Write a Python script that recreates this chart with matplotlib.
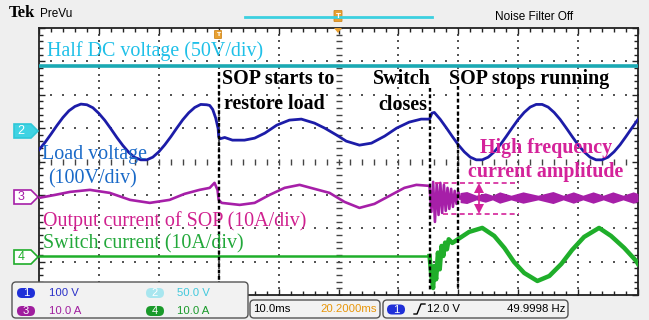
import numpy as np
import matplotlib
matplotlib.use("Agg")
import matplotlib.pyplot as plt
from matplotlib.patches import FancyBboxPatch, Polygon

# ---------------- waveform data (time in ms, physical units) ----------------
# Channel settings: volts/amps per division and ground-marker position (div)
ch1_scale, ch1_pos = 100.0, 0.94   # load voltage, V/div
ch2_scale, ch2_pos = 50.0, 0.94    # half DC voltage, V/div
ch3_scale, ch3_pos = 10.0, -1.06   # SOP output current, A/div
ch4_scale, ch4_pos = 10.0, -2.83   # switch current, A/div

dc_t = [0, 100]
dc_v = [96, 96]

load_t = [0, 1, 2, 3, 4, 5, 6, 7, 8, 9, 10, 11, 12, 13, 14, 15, 16, 17, 18,
          19, 20, 21, 22, 23, 24, 25, 26, 27, 28, 28.5, 29, 29.5, 29.9, 30.0,
          30.2, 31, 32.3, 34.3, 36, 37.7, 39.7, 41.8, 43.8, 46, 47.7, 49.7,
          51.3, 53.5, 55.5, 57.7, 59.7, 61.8, 63.8, 65.2, 65.6, 66, 67, 68,
          69, 70, 71, 72, 73, 74, 75, 76, 77, 78, 79, 80, 81, 82, 83, 84, 85,
          86, 87, 88, 89, 90, 91, 92, 93, 94, 95, 96, 97, 98, 99, 100]
load_v = [-59, -37, -12, 14, 38, 58, 71, 78, 76, 67, 50, 29, 4, -22, -46, -67,
          -82, -89, -89, -81, -65, -44, -20, 6, 31, 52, 68, 77, 76, 74, 62, 36,
          5, -20, -26, -22, -30, -30, -24, -9, 15, 30, 33, 21, 6, -15, -33,
          -45, -39, -18, 6, 24, 33, 33, 51, 53, 32, 7, -19, -44, -65, -81,
          -89, -89, -81, -65, -44, -19, 7, 32, 53, 69, 77, 77, 69, 53, 32, 7,
          -19, -44, -65, -81, -89, -89, -81, -65, -44, -19, 7, 32]

sop_t = [0, 2.7, 5.2, 8.5, 11.8, 15.2, 18.5, 21.8, 24.3, 26.8, 28.5, 29.3,
         29.8, 30.0, 30.5, 33.5, 36, 38.5, 41, 43.5, 46, 48.5, 51, 53.5, 56,
         58.5, 61, 63, 65.2, 65.5, 65.8, 66.1, 66.4, 66.7, 67.0, 67.3, 67.6,
         67.9, 68.2, 68.5, 68.8, 69.1, 69.4, 69.7, 70.0, 70.3]
sop_a = [-0.3, 0.6, 1.5, 2.1, 1.2, -0.9, -1.8, -0.9, 0.9, 2.1, 2.7, 4.2, 2.1,
         -0.9, -1.8, -2.4, -1.8, 0.6, 2.7, 3.6, 2.4, 1.2, -1.5, -3.3, -2.1, 0.3,
         2.7, 3.6, 3.3, -4.5, 4.5, -7.5, 3.9, -5.4, 4.2, -4.8, 3.6, -4.2, 2.7,
         -3.6, 2.4, -3.0, 1.8, -2.1, 1.5, -0.2]

# residual high-frequency ripple after the SOP stops: centre and half-width
ripple_t = [70.3, 71.4, 73.0, 74.5, 75.7, 76.9, 78.8, 80.8, 83.3, 85.8, 87.5,
            89.2, 90.8, 92.5, 94.2, 95.8, 97.5, 99.2, 100]
ripple_half = [1.5, 1.8, 0.7, 1.4, 0.7, 1.7, 0.7, 1.7, 0.7, 1.8, 0.7, 1.7,
               0.7, 1.7, 0.7, 1.7, 0.7, 1.7, 1.2]
ripple_mid = -0.2

sw_t = [0, 65.2, 65.5, 65.8, 66.0, 66.3, 66.6, 66.9, 67.2, 67.5, 67.8, 68.1,
        68.4, 69, 71.8, 74, 76, 77.7, 79.3, 81, 83.2, 85.2, 87.2, 89, 91, 93.5,
        95.5, 97.7, 99.7, 100]
sw_a = [0, 0, -6, -9.6, -3, -7, 1, -4, 3, 0, 4, 2, 5, 3.9, 7.2, 8.4, 6, 2.4,
        -1.8, -5.1, -7.5, -6, -2.4, 1.8, 5.7, 8.4, 6, 2.4, -1.5, -2.4]

t_sop_on, t_switch, t_sop_off = 30.0, 65.3, 70.0

# ---------------- colours & fonts ----------------
C_BLUE = '#1c1ca8'
C_CYAN = '#1aa9b3'
C_PURP = '#a61fa8'
C_GREEN = '#1fae2a'
C_MAG = '#d4229a'
SERIF = 'Liberation Serif'
NARROW = ['Liberation Sans Narrow', 'Liberation Sans', 'DejaVu Sans']

W, H = 649, 320
fig = plt.figure(figsize=(W / 100, H / 100), dpi=100)
fig.patch.set_facecolor('#efefef')

GX0, GX1, GY0, GY1 = 39, 638, 28, 295
ax = fig.add_axes([GX0 / W, 1 - GY1 / H, (GX1 - GX0) / W, (GY1 - GY0) / H])
ax.set_xlim(0, 100)
ax.set_ylim(-4, 4)
ax.set_facecolor('white')

# graticule: border ticks, dotted grid, centre cross
ax.set_xticks(np.arange(0, 101, 10))
ax.set_xticks(np.arange(0, 101, 2), minor=True)
ax.set_yticks(np.arange(-4, 4.01, 1))
ax.set_yticks(np.arange(-4, 4.01, 0.2), minor=True)
ax.tick_params(which='both', direction='in', top=True, right=True,
               labelbottom=False, labelleft=False, color='#222222', width=1.0)
ax.tick_params(which='major', length=4)
ax.tick_params(which='minor', length=3)
for s in ax.spines.values():
    s.set_color('#222222')
    s.set_linewidth(1.3)

ys = np.arange(-4, 4.01, 0.2)
xs = np.arange(0, 100.01, 2)
for xv in range(10, 100, 10):
    if xv == 50:
        continue
    ax.scatter(np.full_like(ys, xv), ys, s=1.6, marker='s', color='#555555',
               linewidths=0, zorder=1)
for yv in (-3, -2, -1, 1, 2, 3):
    ax.scatter(xs, np.full_like(xs, yv), s=1.6, marker='s', color='#555555',
               linewidths=0, zorder=1)
ax.plot(np.full_like(ys, 50), ys, ls='none', marker='_', ms=4, mew=1.0,
        color='#444444', zorder=1)
ax.plot(xs, np.zeros_like(xs), ls='none', marker='|', ms=4, mew=1.0,
        color='#444444', zorder=1)

# ---------------- traces ----------------
def to_div(vals, scale, pos):
    return np.asarray(vals, dtype=float) / scale + pos

ax.plot(dc_t, to_div(dc_v, ch2_scale, ch2_pos), color=C_CYAN, lw=2.6, zorder=3)
ax.plot(load_t, to_div(load_v, ch1_scale, ch1_pos), color=C_BLUE, lw=2.0,
        zorder=4)
ax.plot(sop_t, to_div(sop_a, ch3_scale, ch3_pos), color=C_PURP, lw=1.9,
        zorder=4)
rt = np.asarray(ripple_t)
rh = np.asarray(ripple_half)
ax.fill_between(rt, to_div(ripple_mid - rh, ch3_scale, ch3_pos),
                to_div(ripple_mid + rh, ch3_scale, ch3_pos), color=C_PURP,
                lw=0, zorder=4)
ax.plot(rt, to_div(np.full_like(rt, ripple_mid), ch3_scale, ch3_pos),
        color=C_PURP, lw=2.0, zorder=4)
ax.plot(sw_t[:2], to_div(sw_a[:2], ch4_scale, ch4_pos), color=C_GREEN, lw=1.8,
        zorder=4)
ax.plot(sw_t[1:], to_div(sw_a[1:], ch4_scale, ch4_pos), color=C_GREEN, lw=3.2,
        zorder=4)

# event markers
for tv, top in ((t_sop_on, 2.68), (t_switch, 2.2), (t_sop_off, 2.25)):
    ax.plot([tv, tv], [top, -3.86], color='black', lw=1.7, ls=(0, (1.6, 1.1)),
            zorder=5)

# ---------------- overlay in pixel coordinates ----------------
ov = fig.add_axes([0, 0, 1, 1], zorder=10)
ov.set_xlim(0, W)
ov.set_ylim(H, 0)
ov.axis('off')
ov.patch.set_alpha(0)

# amplitude bracket for the high-frequency current
ov.plot([435, 519], [183, 183], color=C_MAG, lw=1.2, ls=(0, (3, 2)))
ov.plot([443, 519], [214, 214], color=C_MAG, lw=1.2, ls=(0, (3, 2)))
ov.add_patch(Polygon([(474, 193), (484, 193), (479, 183)], closed=True,
                     color=C_MAG, lw=0))
ov.add_patch(Polygon([(474, 204), (484, 204), (479, 214)], closed=True,
                     color=C_MAG, lw=0))
ov.plot([479, 479], [193, 204], color=C_MAG, lw=1.2)

fs = 14.4
def label(x, y, s, color, bold=False):
    ov.text(x, y, s, color=color, fontsize=fs, family=SERIF,
            fontweight='bold' if bold else 'normal', ha='left', va='center')

label(47, 51, 'Half DC voltage (50V/div)', '#1fc0e8')
label(222, 79, 'SOP starts to', 'black', True)
label(224, 104, 'restore load', 'black', True)
label(373, 79, 'Switch', 'black', True)
label(378, 105, 'closes', 'black', True)
label(449, 79, 'SOP stops running', 'black', True)
label(480, 148, 'High frequency', C_MAG, True)
label(468, 172, 'current amplitude', C_MAG, True)
label(42, 154, 'Load voltage', '#1a6ac8')
label(48, 179, '(100V/div)', '#1a6ac8')
label(43, 221, 'Output current of SOP (10A/div)', '#d0208f')
label(43, 244, 'Switch current (10A/div)', '#22a83a')

# channel position markers at the left edge
def chan_marker(y, num, edge, fill, txt):
    pts = [(14, y - 7), (31, y - 7), (38, y), (31, y + 7), (14, y + 7)]
    ov.add_patch(Polygon(pts, closed=True, facecolor=fill, edgecolor=edge,
                         lw=1.2))
    ov.text(21, y + 0.5, num, color=txt, fontsize=9, family=NARROW,
            ha='center', va='center')

chan_marker(131, '2', '#30c8d8', '#3fd3e3', 'white')
chan_marker(197, '3', C_PURP, 'white', C_PURP)
chan_marker(257, '4', C_GREEN, 'white', C_GREEN)

# top status bar
ov.text(9, 13, 'Tek', fontsize=12, fontweight='bold', family='Liberation Serif',
        ha='left', va='center', color='black')
ov.text(40, 14, 'PreVu', fontsize=8.5, family=NARROW, ha='left', va='center',
        color='black')
ov.plot([245, 432], [17, 17], color='#3cd0e0', lw=2)
ov.add_patch(FancyBboxPatch((334.5, 11), 7, 10, boxstyle='round,pad=0.5',
                            facecolor='#e8a030', edgecolor='#d08820', lw=0.6))
ov.text(338, 16.5, 'T', fontsize=5, color='white', ha='center', va='center',
        fontweight='bold')
ov.add_patch(Polygon([(334, 28), (342, 28), (338, 33)], closed=True,
                     color='#e8a030', lw=0))
ov.add_patch(FancyBboxPatch((215, 31), 6, 7, boxstyle='round,pad=0.5',
                            facecolor='#e8a030', edgecolor='#d08820', lw=0.6))
ov.text(218, 34.5, 'T', fontsize=4.5, color='white', ha='center', va='center',
        fontweight='bold')
ov.text(534, 17, 'Noise Filter Off', fontsize=8.5, family=NARROW, ha='center',
        va='center', color='black')

# bottom readout panels
def panel(x0, y0, x1, y1):
    ov.add_patch(FancyBboxPatch((x0, y0), x1 - x0, y1 - y0,
                                boxstyle='round,pad=0,rounding_size=4',
                                facecolor='#f2f2f2', edgecolor='#555555',
                                lw=1.0))

def pill(x, y, num, fill, txt='white'):
    ov.add_patch(FancyBboxPatch((x - 9, y - 5), 18, 10,
                                boxstyle='round,pad=0,rounding_size=5',
                                facecolor=fill, edgecolor='none'))
    ov.text(x, y + 0.3, num, color=txt, fontsize=8, family=NARROW,
            ha='center', va='center')

RS = 8.2  # readout font size
panel(12, 282, 248, 318)
pill(26, 293, '1', '#2030d8')
ov.text(49, 293, '100 V', color='#2a30c8', fontsize=RS, family=NARROW,
        va='center')
pill(155, 293, '2', '#a8e6ef')
ov.text(177, 293, '50.0 V', color='#40c8dc', fontsize=RS, family=NARROW,
        va='center')
pill(26, 311, '3', '#a01e9e')
ov.text(49, 311, '10.0 A', color='#a01e9e', fontsize=RS, family=NARROW,
        va='center')
pill(155, 311, '4', '#1a9a2a')
ov.text(177, 311, '10.0 A', color='#1a9a2a', fontsize=RS, family=NARROW,
        va='center')

panel(250, 300, 380, 318)
ov.text(253, 309.5, '10.0ms', color='black', fontsize=RS, family=NARROW,
        va='center')
ov.text(377, 309.5, '20.2000ms', color='#e8960a', fontsize=RS, family=NARROW,
        va='center', ha='right')

panel(383, 300, 568, 318)
pill(396, 309.5, '1', '#2030d8')
ov.plot([414, 417, 421, 425], [314, 314, 304, 304], color='black', lw=1.0)
ov.text(427, 309.5, '12.0 V', color='black', fontsize=RS, family=NARROW,
        va='center')
ov.text(565, 309.5, '49.9998 Hz', color='black', fontsize=RS, family=NARROW,
        va='center', ha='right')

fig.savefig('out.png', dpi=100, facecolor=fig.get_facecolor())
